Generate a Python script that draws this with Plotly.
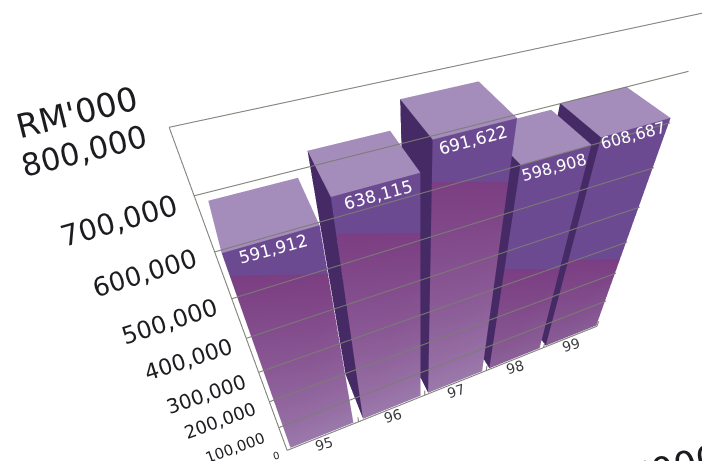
import plotly.graph_objects as go

# Group turnover by financial year, RM'000
years = ["95", "96", "97", "98", "99"]
turnover = [591912, 638115, 691622, 598908, 608687]
value_labels = ["591,912", "638,115", "691,622", "598,908", "608,687"]
tick_values = [0, 100000, 200000, 300000, 400000, 500000, 600000, 700000, 800000]
tick_labels = ["0", "100,000", "200,000", "300,000", "400,000", "500,000", "600,000", "700,000", "800,000"]

# Horizontal extent of each bar along the category axis
bar_left = [0.05, 1.07, 2.06, 3.06, 4.05]
bar_right = [0.93, 1.94, 2.94, 3.94, 5.00]
# Where the pale gradient gives way to the flat violet band, at each bar's two edges
band_left = [545000, 565600, 614200, 347400, 305200]
band_right = [486000, 513800, 568800, 285400, 243600]
# Colour reached at the foot of each bar
foot_colour = ["#9b79ab", "#9b79ab", "#9b79ab", "#8b6198", "#885d96"]

TOP = "#a48dbb"
SIDE = "#452a66"
BAND = "#6b4a92"
GRADIENT_START = "#7b3e82"
GRID = "#7c7c74"
FRONT, BACK = 0.02, 1.0

# Mesh vertices and faces are collected here
vx, vy, vz, vc, fi, fj, fk = [], [], [], [], [], [], []


def quad(corners, colours):
    start = len(vx)
    for (x, y, z), c in zip(corners, colours):
        vx.append(x)
        vy.append(y)
        vz.append(z)
        vc.append(c)
    fi.extend([start, start])
    fj.extend([start + 1, start + 2])
    fk.extend([start + 2, start + 3])


for n, value in enumerate(turnover):
    a, b = bar_left[n], bar_right[n]
    bl, br = band_left[n], band_right[n]
    quad([(a, FRONT, 0), (b, FRONT, 0), (b, FRONT, br), (a, FRONT, bl)],
         [foot_colour[n], foot_colour[n], GRADIENT_START, GRADIENT_START])
    quad([(a, FRONT, bl), (b, FRONT, br), (b, FRONT, value), (a, FRONT, value)], [BAND] * 4)
    quad([(a, FRONT, value), (b, FRONT, value), (b, BACK, value), (a, BACK, value)], [TOP] * 4)
    quad([(a, FRONT, 0), (a, BACK, 0), (a, BACK, value), (a, FRONT, value)], [SIDE] * 4)

bars = go.Mesh3d(
    x=vx, y=vy, z=vz, i=fi, j=fj, k=fk, vertexcolor=vc,
    flatshading=True, hoverinfo="skip", showscale=False,
    lighting=dict(ambient=1, diffuse=0, specular=0, roughness=1, fresnel=0),
)

# Gridlines, left axis, baseline and category ticks share one line trace
gx, gy, gz = [], [], []
for t in tick_values:
    gx += [0, 5, None]
    gy += [0, 0, None]
    gz += [t, t, None]
gx += [0, 0, None]
gy += [0, 0, None]
gz += [0, 800000, None]
for c in range(1, 6):
    gx += [c, c, None]
    gy += [0, 0, None]
    gz += [0, 20000, None]
grid = go.Scatter3d(x=gx, y=gy, z=gz, mode="lines", hoverinfo="skip",
                    line=dict(color=GRID, width=2))

INK = "#1c1c20"
annotations = []


def label(x, z, text, size, angle, dx, dy, colour=INK):
    annotations.append(dict(
        x=x, y=0, z=z, text=text, showarrow=False, textangle=angle,
        xanchor="center", yanchor="middle", xshift=dx, yshift=-dy,
        font=dict(family="DejaVu Sans", size=size, color=colour),
    ))


tick_sizes = [10, 15, 18, 20, 22, 24, 26, 29, 31]
tick_angles = [-14, -20, -20, -19, -18, -18, -17, -16, -14]
tick_dx = [-11, -44, -50, -52, -58, -63, -70, -76, -86]
tick_dy = [5, 20, 19, 22, 21, 23, 21, 25, 23]
for t, s, ang, dx, dy, tl in zip(tick_values, tick_sizes, tick_angles, tick_dx, tick_dy, tick_labels):
    # Scene annotations are dropped once they touch the edge of the axis range
    label(0, min(t, 799000), tl, s, ang, dx, dy)

for n, y in enumerate(years):
    label(n + 0.5, 0, y, 14, -17, 0, 8, "#3a3a3e")

value_sizes = [17, 17, 17, 16, 16]
value_dx = [0, 0, -4, -4, -5]
value_dy = [9, 9, 11, 12, 7]
for n, txt in enumerate(value_labels):
    label((bar_left[n] + bar_right[n]) / 2, turnover[n], txt, value_sizes[n], -15,
          value_dx[n], value_dy[n], "#ffffff")

label(0, 799000, "RM'000", 33, -14, -93, -16)
label(5, 0, "RM'000", 36, -14, 57, 146)

hidden = dict(visible=False, showbackground=False, showgrid=False, zeroline=False, showspikes=False)
eye = (-1.0815, -2.017, 2.2695)
forward = (0.29381, 0.66265, -0.68889)
up = (0.27871, 0.62999, 0.72487)

fig = go.Figure([bars, grid])
fig.update_layout(
    width=702, height=461, margin=dict(l=0, r=0, t=0, b=0),
    paper_bgcolor="white", showlegend=False,
    scene=dict(
        domain=dict(x=[0.2, 1], y=[0, 1]),
        bgcolor="white",
        xaxis=dict(range=[0, 5], **hidden),
        yaxis=dict(range=[0, 1], **hidden),
        zaxis=dict(range=[0, 800000], **hidden),
        aspectmode="manual",
        aspectratio=dict(x=2.4224, y=0.3801, z=2.434),
        camera=dict(
            eye=dict(x=eye[0], y=eye[1], z=eye[2]),
            center=dict(x=eye[0] + forward[0], y=eye[1] + forward[1], z=eye[2] + forward[2]),
            up=dict(x=up[0], y=up[1], z=up[2]),
            projection=dict(type="perspective"),
        ),
        annotations=annotations,
    ),
)
fig.write_html("out.html")
